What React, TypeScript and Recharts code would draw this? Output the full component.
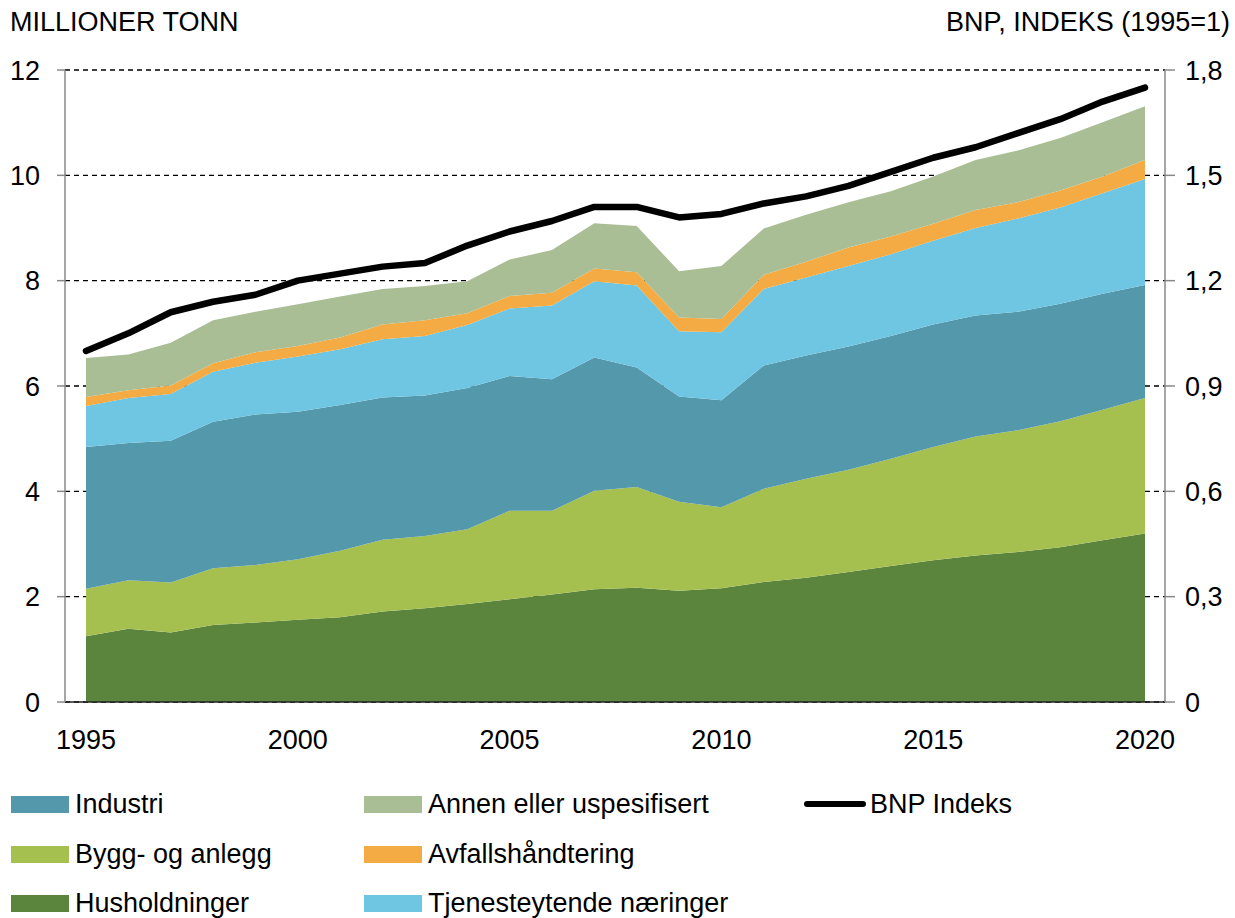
import React from 'react';
import {
  ComposedChart,
  Area,
  Line,
  XAxis,
  YAxis,
  CartesianGrid,
} from 'recharts';

const years = [
  1995, 1996, 1997, 1998, 1999, 2000, 2001, 2002, 2003, 2004, 2005, 2006, 2007,
  2008, 2009, 2010, 2011, 2012, 2013, 2014, 2015, 2016, 2017, 2018, 2019, 2020,
];

// millioner tonn, bottom to top of the stack
const husholdninger = [
  1.25, 1.39, 1.32, 1.46, 1.51, 1.56, 1.61, 1.72, 1.78, 1.86, 1.95, 2.04, 2.14,
  2.17, 2.11, 2.16, 2.28, 2.36, 2.47, 2.58, 2.69, 2.78, 2.85, 2.94, 3.07, 3.2,
];
const bygg = [
  0.9, 0.92, 0.95, 1.08, 1.09, 1.15, 1.26, 1.36, 1.37, 1.42, 1.68, 1.59, 1.87,
  1.91, 1.69, 1.54, 1.77, 1.88, 1.94, 2.04, 2.15, 2.26, 2.31, 2.39, 2.48, 2.57,
];
const industri = [
  2.69, 2.61, 2.69, 2.78, 2.86, 2.8, 2.77, 2.7, 2.67, 2.68, 2.56, 2.5, 2.53,
  2.27, 2.0, 2.03, 2.34, 2.34, 2.34, 2.33, 2.33, 2.3, 2.25, 2.23, 2.2, 2.15,
];
const tjeneste = [
  0.78, 0.85, 0.89, 0.95, 0.98, 1.05, 1.06, 1.11, 1.13, 1.2, 1.28, 1.4, 1.45,
  1.56, 1.24, 1.29, 1.45, 1.48, 1.53, 1.55, 1.59, 1.66, 1.77, 1.83, 1.91, 2.01,
];
const avfall = [
  0.17, 0.15, 0.16, 0.16, 0.2, 0.2, 0.22, 0.28, 0.3, 0.22, 0.24, 0.24, 0.24,
  0.25, 0.26, 0.25, 0.27, 0.3, 0.35, 0.34, 0.32, 0.34, 0.31, 0.32, 0.32, 0.36,
];
const annen = [
  0.74, 0.68, 0.81, 0.82, 0.77, 0.79, 0.78, 0.67, 0.65, 0.61, 0.69, 0.81, 0.86,
  0.88, 0.88, 1.01, 0.88, 0.89, 0.86, 0.86, 0.9, 0.95, 0.98, 1.0, 1.03, 1.02,
];
// BNP, indeks (1995=1)
const bnp = [
  1.0, 1.05, 1.11, 1.14, 1.16, 1.2, 1.22, 1.24, 1.25, 1.3, 1.34, 1.37, 1.41,
  1.41, 1.38, 1.39, 1.42, 1.44, 1.47, 1.51, 1.55, 1.58, 1.62, 1.66, 1.71, 1.75,
];

const xTicks = [1995, 2000, 2005, 2010, 2015, 2020];
const leftTicks = [0, 2, 4, 6, 8, 10, 12];
const rightTicks = [0, 0.3, 0.6, 0.9, 1.2, 1.5, 1.8];

const series = [
  { key: 'husholdninger', name: 'Husholdninger', color: '#5b853d', values: husholdninger },
  { key: 'bygg', name: 'Bygg- og anlegg', color: '#a6c050', values: bygg },
  { key: 'industri', name: 'Industri', color: '#5498ab', values: industri },
  { key: 'tjeneste', name: 'Tjenesteytende næringer', color: '#6ec6e2', values: tjeneste },
  { key: 'avfall', name: 'Avfallshåndtering', color: '#f4ab43', values: avfall },
  { key: 'annen', name: 'Annen eller uspesifisert', color: '#a9be95', values: annen },
];

const data = years.map((year, i) => {
  const row: Record<string, number> = { year, bnp: bnp[i] };
  series.forEach((s) => {
    row[s.key] = s.values[i];
  });
  return row;
});

const FONT = '"Liberation Sans", Arial, sans-serif';
const FS = 27;

const legendCols = [
  { x: 11, items: ['industri', 'bygg', 'husholdninger'] },
  { x: 364, items: ['annen', 'avfall', 'tjeneste'] },
];
const legendRows = [804, 854, 903];

const fmtRight = (v: number) => (v === 0 ? '0' : v.toFixed(1).replace('.', ','));

export default function App() {
  return (
    <div
      style={{
        position: 'absolute',
        left: 0,
        top: 0,
        width: 1235,
        height: 918,
        background: '#fff',
        fontFamily: FONT,
        color: '#000',
      }}
    >
      <div style={{ position: 'absolute', left: 10, top: 7, fontSize: FS }}>
        MILLIONER TONN
      </div>
      <div style={{ position: 'absolute', right: 5, top: 7, fontSize: FS }}>
        BNP, INDEKS (1995=1)
      </div>

      <div style={{ position: 'absolute', left: 0, top: 0 }}>
        <ComposedChart
          width={1235}
          height={770}
          data={data}
          margin={{ top: 70, right: 0, bottom: 0, left: 0 }}
        >
          <CartesianGrid
            yAxisId="left"
            vertical={false}
            stroke="#000"
            strokeWidth={1.3}
            strokeDasharray="5 4"
          />
          <XAxis
            dataKey="year"
            type="number"
            domain={[1995, 2020]}
            ticks={xTicks}
            padding={{ left: 21, right: 20 }}
            axisLine={{ stroke: '#222', strokeWidth: 1.5 }}
            tickLine={false}
            tickMargin={22}
            height={68}
            tick={{ fill: '#000', fontSize: FS, fontFamily: FONT }}
          />
          <YAxis
            yAxisId="left"
            domain={[0, 12]}
            ticks={leftTicks}
            width={65}
            axisLine={{ stroke: '#888', strokeWidth: 1.5 }}
            tickLine={{ stroke: '#888', strokeWidth: 1.5 }}
            tickSize={8}
            tickMargin={17}
            tick={{ fill: '#000', fontSize: FS, fontFamily: FONT }}
          />
          <YAxis
            yAxisId="right"
            orientation="right"
            domain={[0, 1.8]}
            ticks={rightTicks}
            width={70}
            tickFormatter={fmtRight}
            axisLine={{ stroke: '#888', strokeWidth: 1.5 }}
            tickLine={{ stroke: '#888', strokeWidth: 1.5 }}
            tickSize={10}
            tickMargin={10}
            tick={{ fill: '#000', fontSize: FS, fontFamily: FONT }}
          />
          {series.map((s) => (
            <Area
              key={s.key}
              yAxisId="left"
              dataKey={s.key}
              name={s.name}
              stackId="a"
              type="linear"
              stroke="none"
              fill={s.color}
              fillOpacity={1}
              isAnimationActive={false}
            />
          ))}
          <Line
            yAxisId="right"
            dataKey="bnp"
            name="BNP Indeks"
            type="linear"
            stroke="#000"
            strokeWidth={6.5}
            strokeLinecap="round"
            strokeLinejoin="round"
            dot={false}
            isAnimationActive={false}
          />
        </ComposedChart>
      </div>

      {legendCols.map((col) =>
        col.items.map((key, r) => {
          const s = series.find((d) => d.key === key)!;
          return (
            <div
              key={key}
              style={{
                position: 'absolute',
                left: col.x,
                top: legendRows[r] - 16,
                height: 32,
                display: 'flex',
                alignItems: 'center',
                fontSize: FS,
              }}
            >
              <span
                style={{
                  display: 'inline-block',
                  width: 58,
                  height: 17,
                  background: s.color,
                  marginRight: 6,
                }}
              />
              {s.name}
            </div>
          );
        })
      )}
      <div
        style={{
          position: 'absolute',
          left: 804,
          top: legendRows[0] - 16,
          height: 32,
          display: 'flex',
          alignItems: 'center',
          fontSize: FS,
        }}
      >
        <span
          style={{
            display: 'inline-block',
            width: 62,
            height: 6,
            borderRadius: 3,
            background: '#000',
            marginRight: 4,
          }}
        />
        BNP Indeks
      </div>
    </div>
  );
}
